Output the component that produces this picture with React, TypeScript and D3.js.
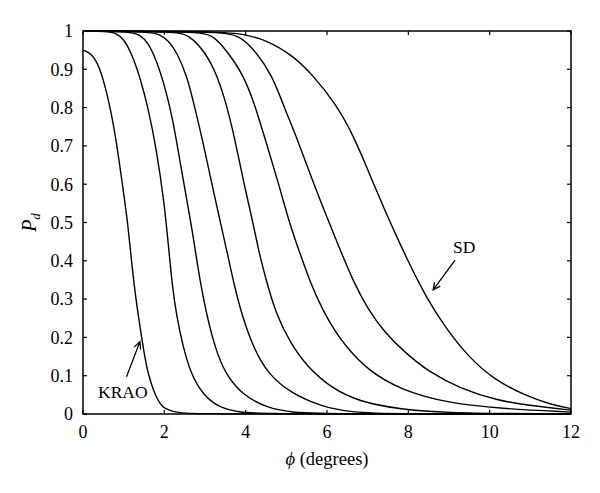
import React from 'react';
import * as d3 from 'd3';

// values: [phi (degrees), Pd]
const krao: [number, number][] = [
  [0, 0.95], [0.2, 0.942], [0.4, 0.91], [0.6, 0.835], [0.8, 0.73], [1.0, 0.575], [1.1, 0.5],
  [1.2, 0.39], [1.3, 0.3], [1.4, 0.23], [1.5, 0.16], [1.6, 0.105], [1.75, 0.055], [1.9, 0.025],
  [2.0, 0.015], [2.2, 0.006], [2.5, 0.002], [3, 0], [12, 0],
];
const curve2: [number, number][] = [
  [0, 1], [0.6, 0.999], [0.8, 0.995], [1.0, 0.98], [1.2, 0.94], [1.4, 0.88], [1.6, 0.8],
  [1.8, 0.695], [2.0, 0.55], [2.1, 0.44], [2.2, 0.33], [2.3, 0.258], [2.45, 0.18], [2.65, 0.105],
  [2.95, 0.05], [3.35, 0.016], [3.85, 0.004], [4.5, 0], [12, 0],
];
const curve3: [number, number][] = [
  [0, 1], [1.2, 0.998], [1.4, 0.99], [1.6, 0.97], [1.8, 0.925], [2.0, 0.86], [2.2, 0.775],
  [2.4, 0.65], [2.6, 0.53], [2.7, 0.47], [2.8, 0.4], [2.9, 0.335], [3.05, 0.255], [3.25, 0.172],
  [3.5, 0.105], [3.9, 0.052], [4.5, 0.016], [5.2, 0.003], [6, 0], [12, 0],
];
const curve4: [number, number][] = [
  [0, 1], [1.7, 0.998], [1.9, 0.99], [2.1, 0.975], [2.3, 0.946], [2.55, 0.885], [2.75, 0.8],
  [2.95, 0.71], [3.15, 0.61], [3.4, 0.49], [3.55, 0.42], [3.7, 0.345], [3.9, 0.26], [4.2, 0.17],
  [4.55, 0.105], [5.1, 0.055], [5.9, 0.018], [6.6, 0.005], [7.5, 0], [12, 0],
];
const curve5: [number, number][] = [
  [0, 1], [2.3, 0.998], [2.6, 0.99], [3.0, 0.946], [3.3, 0.885], [3.55, 0.8], [3.75, 0.71],
  [3.95, 0.605], [4.2, 0.49], [4.3, 0.435], [4.5, 0.35], [4.75, 0.26], [5.1, 0.185], [5.5, 0.125],
  [6.1, 0.068], [6.8, 0.032], [7.8, 0.012], [9, 0.003], [10.5, 0.001], [12, 0],
];
const curve6: [number, number][] = [
  [0, 1], [2.8, 0.998], [3.2, 0.99], [3.55, 0.946], [3.95, 0.885], [4.25, 0.8], [4.5, 0.71],
  [4.8, 0.605], [5.1, 0.49], [5.3, 0.43], [5.6, 0.34], [5.9, 0.27], [6.2, 0.215], [6.5, 0.172],
  [7.0, 0.115], [7.8, 0.063], [9.0, 0.028], [10.25, 0.014], [12, 0.005],
];
const curve7: [number, number][] = [
  [0, 1], [3.3, 0.998], [3.85, 0.99], [4.25, 0.946], [4.65, 0.885], [4.95, 0.8], [5.3, 0.71],
  [5.65, 0.607], [6.05, 0.5], [6.3, 0.435], [6.65, 0.345], [7.0, 0.275], [7.4, 0.215],
  [7.9, 0.162], [8.5, 0.11], [9.3, 0.065], [10.2, 0.035], [11, 0.022], [12, 0.01],
];
const sd: [number, number][] = [
  [0, 1], [3.5, 0.999], [4.0, 0.99], [4.5, 0.977], [5.15, 0.937], [5.65, 0.885], [6.2, 0.812],
  [6.65, 0.728], [7.05, 0.625], [7.45, 0.525], [7.6, 0.49], [7.95, 0.408], [8.45, 0.302],
  [8.9, 0.228], [9.45, 0.152], [10.1, 0.09], [10.9, 0.047], [11.5, 0.025], [12, 0.014],
];
const series = [krao, curve2, curve3, curve4, curve5, curve6, curve7, sd];

const xTicks = [0, 2, 4, 6, 8, 10, 12];
const yTicks = [0, 0.1, 0.2, 0.3, 0.4, 0.5, 0.6, 0.7, 0.8, 0.9, 1];

// annotations in data units: label position, arrow tail, arrow tip
const notes = [
  { text: 'KRAO', at: [0.37, 0.042], from: [1.07, 0.097], to: [1.4, 0.189] },
  { text: 'SD', at: [9.1, 0.42], from: [9.15, 0.402], to: [8.61, 0.324] },
];

const W = 600;
const H = 493;
const margin = { top: 31, right: 29, bottom: 79, left: 83 };
const font = 'Liberation Serif, DejaVu Serif, serif';

export default function App() {
  const x = d3.scaleLinear().domain([0, 12]).range([margin.left, W - margin.right]);
  const y = d3.scaleLinear().domain([0, 1]).range([H - margin.bottom, margin.top]);
  const line = d3.line<[number, number]>()
    .x(d => x(d[0]))
    .y(d => y(d[1]))
    .curve(d3.curveBasis);

  const x0 = x.range()[0], x1 = x.range()[1];
  const y0 = y.range()[0], y1 = y.range()[1];
  const tick = 4;

  const arrowHead = (from: number[], to: number[]) => {
    const fx = x(from[0]), fy = y(from[1]), tx = x(to[0]), ty = y(to[1]);
    const a = Math.atan2(ty - fy, tx - fx);
    const len = 8, spread = 0.45;
    const p1 = [tx - len * Math.cos(a - spread), ty - len * Math.sin(a - spread)];
    const p2 = [tx - len * Math.cos(a + spread), ty - len * Math.sin(a + spread)];
    return `M${fx},${fy}L${tx},${ty}M${p1[0]},${p1[1]}L${tx},${ty}L${p2[0]},${p2[1]}`;
  };

  return (
    <svg width={W} height={H} style={{ position: 'absolute', left: 0, top: 0, background: '#fff', fontFamily: font }}>
      <rect width={W} height={H} fill="#fff" />
      {series.map((s, i) => (
        <path key={i} d={line(s) || ''} fill="none" stroke="#000" strokeWidth={1.4} />
      ))}
      {/* frame */}
      <rect x={x0} y={y1} width={x1 - x0} height={y0 - y1} fill="none" stroke="#000" strokeWidth={1.5} />
      {xTicks.map(t => (
        <g key={'x' + t}>
          <line x1={x(t)} x2={x(t)} y1={y0} y2={y0 - tick} stroke="#000" strokeWidth={1.2} />
          <line x1={x(t)} x2={x(t)} y1={y1} y2={y1 + tick} stroke="#000" strokeWidth={1.2} />
          <text x={x(t)} y={y0 + 24} textAnchor="middle" fontSize={18}>{t}</text>
        </g>
      ))}
      {yTicks.map(t => (
        <g key={'y' + t}>
          <line x1={x0} x2={x0 + tick} y1={y(t)} y2={y(t)} stroke="#000" strokeWidth={1.2} />
          <line x1={x1} x2={x1 - tick} y1={y(t)} y2={y(t)} stroke="#000" strokeWidth={1.2} />
          <text x={x0 - 10} y={y(t)} dy="0.35em" textAnchor="end" fontSize={18}>{t === 0 || t === 1 ? t : t.toFixed(1)}</text>
        </g>
      ))}
      <text x={(x0 + x1) / 2} y={465} textAnchor="middle" fontSize={18.5}>
        <tspan fontStyle="italic">ϕ</tspan> (degrees)
      </text>
      <text transform={`translate(36,${(y0 + y1) / 2}) rotate(-90)`} textAnchor="middle" fontSize={20}>
        <tspan fontStyle="italic">P</tspan>
        <tspan fontStyle="italic" fontSize={13} dy={4}>d</tspan>
      </text>
      {notes.map(n => (
        <g key={n.text}>
          <text x={x(n.at[0])} y={y(n.at[1])} fontSize={17.5}>{n.text}</text>
          <path d={arrowHead(n.from, n.to)} fill="none" stroke="#000" strokeWidth={1.3} />
        </g>
      ))}
    </svg>
  );
}
